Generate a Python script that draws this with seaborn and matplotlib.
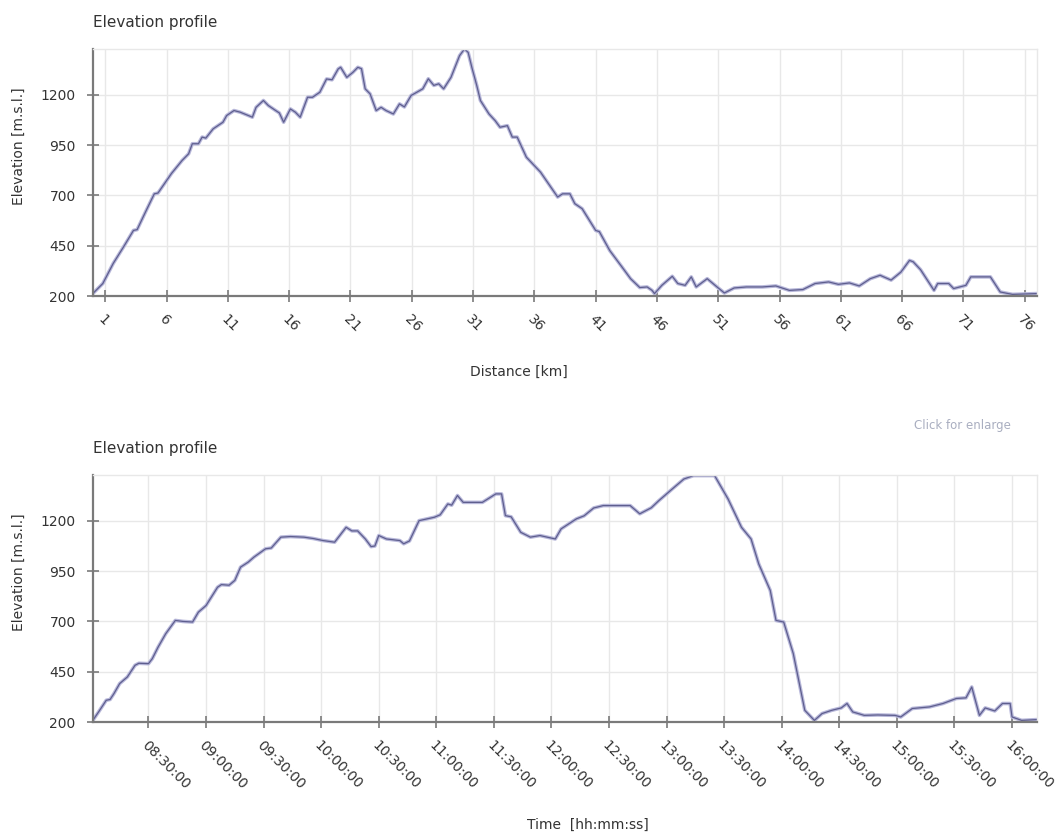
import numpy as np
import pandas as pd
import matplotlib
matplotlib.use("Agg")
import matplotlib.pyplot as plt
import seaborn as sns

# elevation vs distance
dist_km = [0, 0.8, 1.65, 2.5, 3.3, 3.6, 4.3, 5.0, 5.3, 6.4, 7.27, 7.8, 8.1, 8.6, 8.9, 9.2,
           9.8, 10.6, 10.9, 11.5, 12.0, 13.0, 13.3, 13.9, 14.3, 14.9, 15.2, 15.55, 16.1,
           16.5, 16.9, 17.5, 17.9, 18.5, 19.05, 19.5, 20.0, 20.2, 20.7, 21.2, 21.6, 21.9,
           22.2, 22.6, 23.1, 23.5, 23.9, 24.5, 25.0, 25.4, 25.95, 26.9, 27.35, 27.8, 28.2,
           28.6, 29.2, 29.9, 30.3, 30.6, 30.9, 31.3, 31.6, 32.3, 32.8, 33.2, 33.8, 34.2,
           34.6, 35.35, 36.5, 37.9, 38.3, 38.9, 39.3, 39.9, 41.0, 41.3, 42.15, 43.15,
           43.85, 44.6, 45.2, 45.6, 45.8, 46.4, 47.25, 47.7, 48.3, 48.8, 49.2, 50.1,
           50.9, 51.5, 52.3, 53.3, 54.6, 55.7, 56.8, 57.9, 58.9, 60.0, 60.8, 61.7, 62.5,
           63.4, 64.2, 65.1, 65.9, 66.6, 66.9, 67.5, 68.6, 68.9, 69.8, 70.2, 71.2, 71.6,
           72.5, 73.2, 74.0, 75.0, 76.0, 77.0]
elev_dist = [213, 262, 362, 445, 526, 530, 620, 708, 712, 809, 874, 907, 957, 957, 990, 985,
             1031, 1064, 1097, 1122, 1114, 1089, 1138, 1172, 1147, 1122, 1110, 1064, 1130,
             1114, 1089, 1188, 1188, 1213, 1279, 1275, 1329, 1337, 1287, 1312, 1337, 1330,
             1230, 1205, 1122, 1138, 1122, 1105, 1155, 1140, 1197, 1230, 1280, 1247, 1255,
             1230, 1287, 1395, 1428, 1411, 1337, 1247, 1172, 1105, 1072, 1039, 1047, 990,
             990, 890, 816, 692, 708, 708, 659, 634, 526, 520, 426, 344,
             286, 242, 245, 228, 212, 253, 298, 262, 253, 295, 245, 286,
             245, 215, 240, 245, 245, 250, 228, 232, 262, 270, 258, 265, 250,
             286, 303, 279, 319, 377, 370, 331, 228, 262, 262, 237, 253, 295,
             295, 295, 220, 208, 210, 212]

# elevation vs time of day
time_hm = ["08:01", "08:04", "08:08", "08:10", "08:12", "08:15", "08:19", "08:23", "08:25",
           "08:30", "08:32", "08:35", "08:39", "08:44", "08:48", "08:53", "08:56", "09:00",
           "09:06", "09:08", "09:12", "09:15", "09:18", "09:22", "09:25", "09:31", "09:34",
           "09:39", "09:44", "09:51", "09:56", "10:01", "10:07", "10:13", "10:16", "10:19",
           "10:23", "10:26", "10:28", "10:30", "10:34", "10:41", "10:43", "10:46", "10:51",
           "10:59", "11:02", "11:06", "11:08", "11:11", "11:14", "11:24", "11:31", "11:34",
           "11:36", "11:39", "11:44", "11:49", "11:54", "12:02", "12:05", "12:13", "12:17",
           "12:22", "12:27", "12:41", "12:46", "12:49", "12:52", "12:56", "13:03", "13:09",
           "13:14", "13:25", "13:32", "13:39", "13:44", "13:48", "13:54", "13:57", "14:01",
           "14:06", "14:12", "14:17", "14:21", "14:26", "14:31", "14:34", "14:37", "14:43",
           "14:50", "14:59", "15:02", "15:08", "15:17", "15:24", "15:31", "15:36", "15:39",
           "15:43", "15:46", "15:51", "15:55", "15:59", "16:00", "16:05", "16:13"]
elev_time = [208, 250, 308, 312, 341, 391, 424, 482, 492,
             490, 515, 572, 639, 705, 700, 697, 746, 779,
             870, 883, 880, 904, 970, 995, 1020, 1061, 1065,
             1119, 1122, 1119, 1112, 1102, 1094, 1168, 1150, 1150,
             1110, 1072, 1075, 1127, 1110, 1102, 1086, 1100, 1201,
             1218, 1230, 1284, 1278, 1326, 1292, 1292, 1334, 1334,
             1226, 1220, 1143, 1119, 1127, 1110, 1160, 1210, 1225,
             1264, 1276, 1276, 1235, 1250, 1265, 1301, 1359, 1408,
             1425, 1425, 1309, 1168, 1110, 986, 854, 705, 697,
             540, 258, 208, 242, 258, 270, 292, 250, 233,
             235, 233, 225, 267, 275, 292, 317, 320, 374,
             233, 270, 255, 292, 292, 225, 208, 212]

elev_ticks = [200, 450, 700, 950, 1200]
dist_ticks = list(range(1, 77, 5))
time_ticks = ["08:30", "09:00", "09:30", "10:00", "10:30", "11:00", "11:30", "12:00",
              "12:30", "13:00", "13:30", "14:00", "14:30", "15:00", "15:30", "16:00"]

sns.set_theme(style="whitegrid")
plt.rcParams["font.family"] = ["DejaVu Sans"]

line_dark = "#5e5e8e"
line_halo = "#b8b8da"
axis_gray = "#7a7a7a"
grid_gray = "#e8e8e8"
text_col = "#333333"

W, H = 1064, 835
fig = plt.figure(figsize=(W / 100, H / 100), dpi=100)
fig.patch.set_facecolor("white")


def box(left, top, right, bottom):
    return [left / W, 1 - bottom / H, (right - left) / W, (bottom - top) / H]


ax1 = fig.add_axes(box(93, 49, 1037, 296))
ax2 = fig.add_axes(box(93, 475, 1037, 722))

day = "2013-07-14 "
top_df = pd.DataFrame({"km": dist_km, "elev": elev_dist})
bot_df = pd.DataFrame({"time": pd.to_datetime([day + t for t in time_hm]), "elev": elev_time})

for ax, df, xcol in [(ax1, top_df, "km"), (ax2, bot_df, "time")]:
    sns.lineplot(data=df, x=xcol, y="elev", ax=ax, color=line_halo, linewidth=2.6)
    sns.lineplot(data=df, x=xcol, y="elev", ax=ax, color=line_dark, linewidth=0.9)
    ax.set_facecolor("white")
    ax.set_ylim(200, 1428)
    ax.set_yticks(elev_ticks)
    ax.set_xlabel("")
    ax.set_ylabel("")
    ax.grid(True, color=grid_gray, linewidth=1)
    for s in ["left", "bottom"]:
        ax.spines[s].set_color(axis_gray)
        ax.spines[s].set_linewidth(1.6)
    for s in ["top", "right"]:
        ax.spines[s].set_color(grid_gray)
        ax.spines[s].set_linewidth(1.0)
    ax.tick_params(direction="inout", length=9, width=1.2, color=axis_gray,
                   labelsize=10, labelcolor=text_col, bottom=True, left=True)
    ax.tick_params(axis="y", pad=8)
    ax.tick_params(axis="x", pad=7)

# distance axis
ax1.set_xlim(0, 77)
ax1.set_xticks(dist_ticks)
ax1.set_xticklabels([str(k) for k in dist_ticks])

# time axis
ax2.set_xlim(pd.Timestamp(day + "08:01:06"), pd.Timestamp(day + "16:13:00"))
ax2.set_xticks(pd.to_datetime([day + t for t in time_ticks]))
ax2.set_xticklabels([t + ":00" for t in time_ticks])

for ax in (ax1, ax2):
    for lbl in ax.get_xticklabels():
        lbl.set_rotation(-45)
        lbl.set_ha("left")
        lbl.set_va("top")
        lbl.set_rotation_mode("anchor")

# titles and axis labels
fig.text(93 / W, 1 - 22 / H, "Elevation profile", ha="left", va="center",
         fontsize=11, color=text_col)
fig.text(93 / W, 1 - 448 / H, "Elevation profile", ha="left", va="center",
         fontsize=11, color=text_col)
fig.text(19 / W, 1 - 146 / H, "Elevation [m.s.l.]", rotation=90, ha="center", va="center",
         fontsize=10, color=text_col)
fig.text(19 / W, 1 - 572 / H, "Elevation [m.s.l.]", rotation=90, ha="center", va="center",
         fontsize=10, color=text_col)
fig.text(519 / W, 1 - 372 / H, "Distance [km]", ha="center", va="center",
         fontsize=10, color=text_col)
fig.text(588 / W, 1 - 825 / H, "Time  [hh:mm:ss]", ha="center", va="center",
         fontsize=10, color=text_col)
fig.text(1011 / W, 1 - 425 / H, "Click for enlarge", ha="right", va="center",
         fontsize=8.5, color="#a9aec0")

fig.savefig("out.png", dpi=100, facecolor="white")
